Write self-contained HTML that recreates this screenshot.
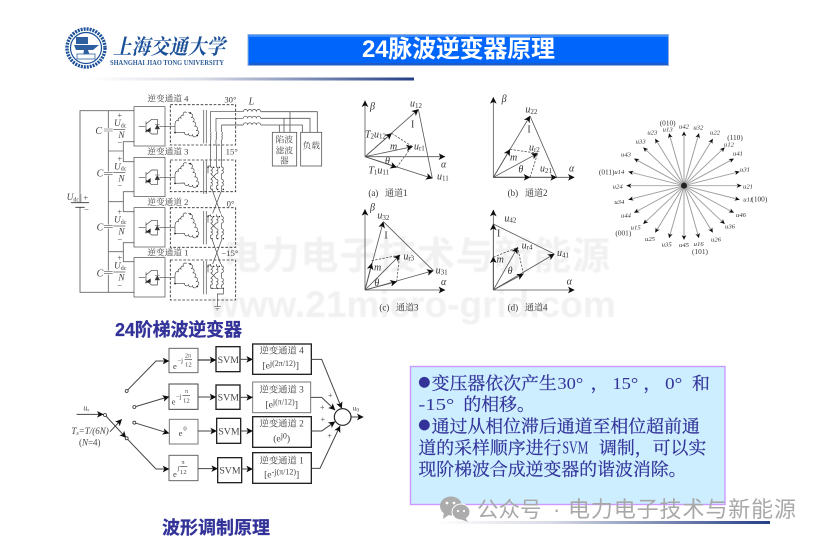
<!DOCTYPE html>
<html lang="zh"><head><meta charset="utf-8"><title>24脉波逆变器原理</title>
<style>
html,body{margin:0;padding:0;background:#fff}
svg{display:block}
text{font-family:"Liberation Serif","Noto Serif CJK SC",serif}
.sans{font-family:"Liberation Sans","Noto Sans CJK SC",sans-serif}
.it{font-style:italic}
.w{fill:none;stroke:#444;stroke-width:2}
.c text{fill:#444}
.p{fill:none;stroke:#555;stroke-width:2.4}
.ptxt text{fill:#333;stroke:none}
.s text{fill:#333}
.b rect{fill:#fff;stroke:#444}
.b text{fill:#444}
</style></head><body>
<svg xmlns="http://www.w3.org/2000/svg" width="822" height="542" viewBox="0 0 822 542">
<defs>
<linearGradient id="lg" x1="0" x2="1" y1="0" y2="0"><stop offset="0" stop-color="#fff"/><stop offset=".35" stop-color="#d9dbe6"/><stop offset="1" stop-color="#243f86"/></linearGradient>
<filter id="bl" x="-5%" y="-5%" width="110%" height="110%"><feGaussianBlur stdDeviation=".45"/></filter>
<filter id="bl2" x="-5%" y="-5%" width="110%" height="110%"><feGaussianBlur stdDeviation=".3"/></filter>
<marker id="a" markerUnits="userSpaceOnUse" markerWidth="24" markerHeight="22" refX="19" refY="10" orient="auto"><path d="M0 0L20 10L0 20L5 10Z" fill="#111"/></marker>
<marker id="as" markerUnits="userSpaceOnUse" markerWidth="18" markerHeight="16" refX="14" refY="7" orient="auto"><path d="M0 0L15 7L0 14L4 7Z" fill="#111"/></marker>

<g id="block">
 <rect x="222" y="50" width="93" height="118" fill="#fff" stroke="#444" stroke-width="2"/>
 <path class="w" d="M236 110H256M258 94V128M258 102L275 88H292V103M292 118V132H275L258 118M298 110H315M315 110H345"/>
 <path d="M255 125L272 112L272 125Z" fill="#222"/>
 <path d="M285 117H299L292 104Z M285 103H299" fill="#333" stroke="#444" stroke-width="1.5"/>
 <path class="w" d="M347 100a6 6 0 0 1 8 -8a6 6 0 0 1 8 -8a6 6 0 0 1 8 -8a6 6 0 0 1 9 -8M388 70a6 6 0 0 1 5 13a6 6 0 0 1 5 13a6 6 0 0 1 5 13a6 6 0 0 1 5 13a6 6 0 0 1 5 11M410 136a6 6 0 0 1 -12 -3a6 6 0 0 1 -12 -3a6 6 0 0 1 -12 -3M374 127L345 128V100M385 68H392"/>
 <circle cx="345" cy="128" r="2.6" fill="#222"/><circle cx="391" cy="69" r="2.6" fill="#222"/><circle cx="412" cy="136" r="2.6" fill="#222"/>
 <path d="M431 60V160M439 60V160" fill="none" stroke="#666" stroke-width="2.4"/>
</g>
<g id="sec2">
 <path class="w" d="M452 225v6a5 5 0 0 1 0 10a5 5 0 0 1 0 10M469 225v6a5 5 0 0 1 0 10a5 5 0 0 1 0 10M485 225v6a5 5 0 0 1 0 10a5 5 0 0 1 0 10M452 228H444V250M452 251L469 268M469 251L452 268M485 251V268M452 268a5 5 0 0 1 0 10a5 5 0 0 1 0 10v10M469 268a5 5 0 0 1 0 10a5 5 0 0 1 0 10v10M485 268a5 5 0 0 1 0 10a5 5 0 0 1 0 10v10"/>
 <circle cx="444" cy="232" r="2.2" fill="#222"/><circle cx="461" cy="232" r="2.2" fill="#222"/><circle cx="478" cy="232" r="2.2" fill="#222"/>
 <circle cx="456" cy="298" r="2.2" fill="#222"/><circle cx="473" cy="298" r="2.2" fill="#222"/><circle cx="490" cy="298" r="2.2" fill="#222"/>
</g>
<line id="spoke" x1="252" y1="227" x2="424" y2="227" stroke="#a0a0a0" stroke-width="3" marker-end="url(#as)"/>
</defs>

<!-- watermark -->
<g filter="url(#bl)">
<text x="223" y="269" class="sans" font-size="38" font-weight="700" fill="#f1f1f1" textLength="387" lengthAdjust="spacing">电力电子技术与新能源</text>
<text x="210" y="317" class="sans" font-size="37" font-weight="700" fill="#f1f1f1">www.21micro-grid.com</text>
</g>

<!-- logo -->
<g filter="url(#bl2)">
<circle cx="86" cy="48" r="19" fill="#fff" stroke="#1c5199" stroke-width="3.4" stroke-dasharray="2 1"/>
<circle cx="86" cy="48" r="15.5" fill="#fff" stroke="#1c5199" stroke-width="1.2"/>
<path d="M76 37H88V44H76ZM74 45H99L93 50H88L90 56H94V58H78V56H83L84 50H76Z" fill="#2d5f9f"/>
<rect x="77" y="54" width="18" height="5" fill="#fff" stroke="#2d5f9f" stroke-width=".8"/>
<text x="113" y="54" font-size="21" font-weight="700" font-style="italic" fill="#1c5199" textLength="112" lengthAdjust="spacingAndGlyphs">上海交通大学</text>
<text x="110" y="65" font-size="7.6" font-weight="700" fill="#2f5d98" textLength="114" lengthAdjust="spacingAndGlyphs">SHANGHAI JIAO TONG UNIVERSITY</text>
</g>

<!-- title -->
<rect x="248" y="34.5" width="420.5" height="31" fill="#0066fb" stroke="#8db0e0" stroke-width="1"/>
<rect x="249" y="35" width="419" height="2" fill="#3c8cff"/>
<rect x="249" y="63" width="419" height="2" fill="#1d5cc8"/>
<text x="362" y="57" class="sans" font-size="24" font-weight="700" fill="#fff" textLength="193" lengthAdjust="spacing">24脉波逆变器原理</text>
<rect x="88" y="77.5" width="326" height="3" fill="url(#lg)"/>

<!-- circuit -->
<g transform="translate(60 90) scale(.33333)" filter="url(#bl)" class="c" font-size="26">
 <path fill="none" stroke="#666" stroke-width="2.6" d="M60 338V62H222M60 352V607H222M145 62V607M145 183H190V155H222M190 183V215H222M145 335H190V305H222M190 335V365H222M145 485H190V458H222M190 485V515H222"/>
 <path d="M33 338H87M46 352H74" stroke="#333" stroke-width="2.4"/>
 <path d="M132 117H158M132 123H158M132 247H158M132 253H158M132 407H158M132 413H158M132 545H158M132 551H158" stroke="#fff" stroke-width="6" fill="none"/>
 <path d="M132 117H158M132 123H158M132 247H158M132 253H158M132 407H158M132 413H158M132 545H158M132 551H158" stroke="#555" stroke-width="1.8" fill="none"/>
 <use href="#block"/>
 <use href="#block" y="152"/>
 <use href="#block" y="303"/>
 <use href="#block" y="453"/>
 <path d="M331 44H527V165H331Z M331 210H527V305H331Z M331 353H527V472H331Z M331 510H527V630H331Z" fill="none" stroke="#333" stroke-width="2.6" stroke-dasharray="8 5"/>
 <path class="w" d="M451 125V65H550M468 125V85H550M485 125V105H550M451 125a5 5 0 0 1 0 8a5 5 0 0 1 0 8a5 5 0 0 1 0 8v15M468 125a5 5 0 0 1 0 8a5 5 0 0 1 0 8a5 5 0 0 1 0 8v15M485 125a5 5 0 0 1 0 8a5 5 0 0 1 0 8a5 5 0 0 1 0 8v15"/>
 <path class="w" d="M452 164V225M469 164V225M485 164V225"/>
 <use href="#sec2"/>
 <use href="#sec2" y="148"/>
 <use href="#sec2" y="297"/>
 <path class="w" d="M456 298L482 370M486 298L458 370M456 447L482 522M486 447L458 522M452 595H490V612H472V650"/>
 <path d="M462 650H482M466 655H478M470 660H474" stroke="#555" stroke-width="2"/>
 <path class="w" d="M550 65a6 6 0 0 1 13 0a6 6 0 0 1 13 0a6 6 0 0 1 13 0a6 6 0 0 1 13 0M550 85a6 6 0 0 1 13 0a6 6 0 0 1 13 0a6 6 0 0 1 13 0a6 6 0 0 1 13 0M550 105a6 6 0 0 1 13 0a6 6 0 0 1 13 0a6 6 0 0 1 13 0a6 6 0 0 1 13 0"/>
 <path fill="none" stroke="#555" stroke-width="2.4" d="M602 65H772V127M602 85H750V127M602 105H727V127M690 65V127M672 85V127M658 105V127"/>
 <rect x="637" y="127" width="73" height="101" fill="#fff" stroke="#555" stroke-width="2.4"/>
 <rect x="722" y="127" width="63" height="101" fill="#fff" stroke="#555" stroke-width="2.4"/>
 <text x="673" y="158" text-anchor="middle">陷波</text>
 <text x="673" y="190" text-anchor="middle">滤波</text>
 <text x="673" y="221" text-anchor="middle">器</text>
 <text x="754" y="175" text-anchor="middle">负载</text>
 <text x="262" y="35">逆变通道 4</text>
 <text x="262" y="193">逆变通道 3</text>
 <text x="262" y="345">逆变通道 2</text>
 <text x="262" y="497">逆变通道 1</text>
 <text x="493" y="38">30°</text><text x="497" y="193">15°</text><text x="500" y="350">0°</text><text x="484" y="498">−15°</text>
 <text x="566" y="43" class="it" font-size="30">L</text>
 <text x="20" y="330" class="it" font-size="28">U<tspan font-size="18" dy="4" font-style="normal">dc</tspan></text>
 <path d="M63 312V336" stroke="#777" stroke-width="1.5"/>
 <text x="70" y="332">+</text><text x="72" y="368">−</text>
 <text x="106" y="132" class="it" font-size="30">C</text><text x="110" y="260" class="it" font-size="30">C</text><text x="110" y="422" class="it" font-size="30">C</text><text x="110" y="560" class="it" font-size="30">C</text>
 <g id="ud"><text x="172" y="84">+</text><text x="162" y="108" class="it" font-size="28">U<tspan font-size="18" dy="4" font-style="normal">dc</tspan></text><path d="M160 118H196" stroke="#444" stroke-width="2"/><text x="175" y="144" class="it" font-size="28">N</text><text x="172" y="166">−</text></g>
 <use href="#ud" y="130"/><use href="#ud" y="290"/><use href="#ud" y="428"/>
</g>

<!-- phase a,b -->
<g transform="translate(345 90) scale(.33333)" filter="url(#bl)">
 <g class="p">
  <path d="M60 200V32" marker-end="url(#a)"/><path d="M60 200H300" marker-end="url(#a)"/>
  <path d="M60 200L220 58" marker-end="url(#a)"/><path d="M60 200L262 265" marker-end="url(#a)"/><path d="M220 58L262 265"/>
  <path d="M60 200L140 130" marker-end="url(#a)"/><path d="M60 200L155 232" marker-end="url(#a)"/><path d="M60 200L203 170" marker-end="url(#a)"/>
  <path d="M140 130L203 170M155 232L196 176" stroke-dasharray="7 4"/>
  <path d="M445 262V22" marker-end="url(#a)"/><path d="M445 262H688" marker-end="url(#a)"/>
  <path d="M445 262L555 78" marker-end="url(#a)"/><path d="M445 262L635 262" marker-end="url(#a)"/><path d="M555 78L635 262"/>
  <path d="M445 262L495 178" marker-end="url(#a)"/><path d="M445 262L578 190" marker-end="url(#a)"/><path d="M445 262L555 262" marker-end="url(#a)"/>
  <path d="M495 178L578 190M555 262L578 190" stroke-dasharray="7 4"/>
 </g>
 <g class="ptxt" font-size="30">
  <text x="75" y="58" class="it">β</text><text x="288" y="232" class="it">α</text>
  <text x="195" y="50" class="it">u<tspan font-size="21" dy="4" font-style="normal">12</tspan></text>
  <text x="198" y="112">I</text>
  <text x="60" y="142" class="it">T<tspan font-size="21" dy="4" font-style="normal">2</tspan><tspan dy="-4">u</tspan><tspan font-size="21" dy="4" font-style="normal">12</tspan></text>
  <text x="135" y="178" class="it">m</text>
  <text x="207" y="178" class="it">u<tspan font-size="21" dy="4" font-style="normal">r1</tspan></text>
  <text x="120" y="222" class="it">θ</text>
  <text x="70" y="250" class="it">T<tspan font-size="21" dy="4" font-style="normal">1</tspan><tspan dy="-4">u</tspan><tspan font-size="21" dy="4" font-style="normal">11</tspan></text>
  <text x="276" y="268" class="it">u<tspan font-size="21" dy="4" font-style="normal">11</tspan></text>
  <text y="318" font-size="27"><tspan x="70">(a)</tspan><tspan x="120">通道1</tspan></text>
  <text x="470" y="36" class="it">β</text><text x="672" y="245" class="it">α</text>
  <text x="541" y="68" class="it">u<tspan font-size="21" dy="4" font-style="normal">22</tspan></text>
  <text x="547" y="128">I</text><text x="495" y="212" class="it">m</text>
  <text x="552" y="182" class="it">u<tspan font-size="21" dy="4" font-style="normal">r2</tspan></text>
  <text x="520" y="248" class="it">θ</text>
  <text x="585" y="245" class="it">u<tspan font-size="21" dy="4" font-style="normal">21</tspan></text>
  <text y="318" font-size="27"><tspan x="488">(b)</tspan><tspan x="540">通道2</tspan></text>
 </g>
</g>

<!-- phase c,d -->
<g transform="translate(345 200) scale(.33333)" filter="url(#bl)">
 <g class="p">
  <path d="M60 270V28" marker-end="url(#a)"/><path d="M60 270H300" marker-end="url(#a)"/>
  <path d="M60 270L115 65" marker-end="url(#a)"/><path d="M60 270L265 212" marker-end="url(#a)"/><path d="M115 65L265 212"/>
  <path d="M60 270L80 190" marker-end="url(#a)"/><path d="M60 270L165 165" marker-end="url(#a)"/><path d="M60 270L155 245" marker-end="url(#a)"/>
  <path d="M80 182L165 165M155 245L163 172" stroke-dasharray="7 4"/>
  <path d="M445 270V30" marker-end="url(#a)"/><path d="M445 270H688" marker-end="url(#a)"/>
  <path d="M445 270V72" marker-end="url(#a)"/><path d="M445 270L628 162" marker-end="url(#a)"/><path d="M445 72L628 162"/>
  <path d="M445 270V170" marker-end="url(#a)"/><path d="M445 270L518 142" marker-end="url(#a)"/><path d="M445 270L535 222" marker-end="url(#a)"/>
  <path d="M445 172L518 142M535 222L518 142" stroke-dasharray="7 4"/>
 </g>
 <g class="ptxt" font-size="30">
  <text x="75" y="32" class="it">β</text><text x="288" y="255" class="it">α</text>
  <text x="97" y="56" class="it">u<tspan font-size="21" dy="4" font-style="normal">32</tspan></text>
  <text x="118" y="116">I</text><text x="87" y="212" class="it">m</text>
  <text x="175" y="178" class="it">u<tspan font-size="21" dy="4" font-style="normal">r3</tspan></text>
  <text x="88" y="258" class="it">θ</text>
  <text x="272" y="220" class="it">u<tspan font-size="21" dy="4" font-style="normal">31</tspan></text>
  <text y="332" font-size="27"><tspan x="103">(c)</tspan><tspan x="153">通道3</tspan></text>
  <text x="478" y="64" class="it">u<tspan font-size="21" dy="4" font-style="normal">42</tspan></text>
  <text x="456" y="110">I</text><text x="455" y="188" class="it">m</text>
  <text x="530" y="145" class="it">u<tspan font-size="21" dy="4" font-style="normal">r4</tspan></text>
  <text x="488" y="222" class="it">θ</text>
  <text x="636" y="168" class="it">u<tspan font-size="21" dy="4" font-style="normal">41</tspan></text>
  <text x="665" y="253" class="it">α</text>
  <text y="332" font-size="27"><tspan x="488">(d)</tspan><tspan x="540">通道4</tspan></text>
 </g>
</g>

<!-- star -->
<g transform="translate(600 110) scale(.33333)" filter="url(#bl2)" class="s">
 <g transform="translate(252 227) scale(1 .94) translate(-252 -227)">
 <use href="#spoke" transform="rotate(0 252 227)"/><use href="#spoke" transform="rotate(15 252 227)"/><use href="#spoke" transform="rotate(30 252 227)"/><use href="#spoke" transform="rotate(45 252 227)"/>
 <use href="#spoke" transform="rotate(60 252 227)"/><use href="#spoke" transform="rotate(75 252 227)"/><use href="#spoke" transform="rotate(90 252 227)"/><use href="#spoke" transform="rotate(105 252 227)"/>
 <use href="#spoke" transform="rotate(120 252 227)"/><use href="#spoke" transform="rotate(135 252 227)"/><use href="#spoke" transform="rotate(150 252 227)"/><use href="#spoke" transform="rotate(165 252 227)"/>
 <use href="#spoke" transform="rotate(180 252 227)"/><use href="#spoke" transform="rotate(195 252 227)"/><use href="#spoke" transform="rotate(210 252 227)"/><use href="#spoke" transform="rotate(225 252 227)"/>
 <use href="#spoke" transform="rotate(240 252 227)"/><use href="#spoke" transform="rotate(255 252 227)"/><use href="#spoke" transform="rotate(270 252 227)"/><use href="#spoke" transform="rotate(285 252 227)"/>
 <use href="#spoke" transform="rotate(300 252 227)"/><use href="#spoke" transform="rotate(315 252 227)"/><use href="#spoke" transform="rotate(330 252 227)"/><use href="#spoke" transform="rotate(345 252 227)"/>
 </g>
 <circle cx="252" cy="227" r="9" fill="#222" filter="url(#bl)"/>
 <g text-anchor="middle" font-size="20" font-style="italic">
 <text x="252" y="56">u42</text><text x="295" y="59">u32</text><text x="345" y="73">u22</text><text x="387" y="109">u12</text>
 <text x="414" y="136">u41</text><text x="435" y="184">u31</text><text x="444" y="236">u21</text><text x="444" y="274">u11</text><text x="423" y="321">u46</text>
 <text x="390" y="356">u36</text><text x="348" y="394">u26</text><text x="296" y="408">u16</text><text x="252" y="411">u45</text>
 <text x="200" y="409">u35</text><text x="150" y="393">u25</text><text x="107" y="358">u15</text><text x="78" y="323">u44</text>
 <text x="58" y="282">u34</text><text x="53" y="236">u24</text><text x="58" y="192">u14</text><text x="78" y="140">u43</text>
 <text x="122" y="101">u33</text><text x="157" y="73">u23</text><text x="203" y="64">u13</text>
 </g>
 <g text-anchor="middle" font-size="22">
 <text x="405" y="90">(110)</text><text x="478" y="275">(100)</text><text x="300" y="432">(101)</text><text x="70" y="377">(001)</text><text x="20" y="193">(011)</text><text x="203" y="47">(010)</text>
 </g>
</g>

<!-- modulation -->
<g transform="translate(60 320) scale(.33333)" filter="url(#bl)" class="b" font-size="28">
 <g stroke-width="3">
 <rect x="327" y="85" width="87" height="73" stroke-width="3" style="stroke:#666"/><rect x="327" y="192" width="87" height="76" stroke-width="3"/><rect x="328" y="298" width="86" height="74" stroke-width="3" style="stroke:#777"/><rect x="327" y="406" width="87" height="76" stroke-width="3" style="stroke:#666"/>
 <rect x="468" y="80" width="72" height="75" stroke-width="4" style="stroke:#222"/><rect x="468" y="195" width="72" height="73" stroke-width="4" style="stroke:#222"/><rect x="470" y="295" width="72" height="75" stroke-width="4" style="stroke:#222"/><rect x="473" y="413" width="72" height="75" stroke-width="4" style="stroke:#222"/>
 <rect x="578" y="72" width="176" height="91" stroke-width="4" style="stroke:#222"/><rect x="578" y="186" width="174" height="92" stroke-width="3" style="stroke:#777"/><rect x="578" y="290" width="176" height="92" stroke-width="4" style="stroke:#222"/><rect x="578" y="398" width="176" height="92" stroke-width="4" style="stroke:#222"/>
 </g>
 <g fill="none" stroke="#444" stroke-width="3">
  <path d="M414 120H468" marker-end="url(#a)" stroke="#111"/><path d="M414 231H468" marker-end="url(#a)"/><path d="M414 333H470" marker-end="url(#a)"/><path d="M414 446H473" marker-end="url(#a)"/>
  <path d="M540 118H578" marker-end="url(#a)"/><path d="M540 232H578" marker-end="url(#a)"/><path d="M542 333H578" marker-end="url(#a)"/><path d="M545 447H578" marker-end="url(#a)"/>
  <path d="M200 213L288 123H327" marker-end="url(#a)"/><path d="M223 261L327 230" marker-end="url(#a)"/><path d="M223 308L327 340" marker-end="url(#a)"/><path d="M200 355L288 447H327" marker-end="url(#a)"/>
  <path d="M50 283H130" marker-end="url(#a)"/><path d="M135 285L198 353" marker-end="url(#a)"/><path d="M150 335L185 298" marker-end="url(#a)"/>
  <path d="M754 118H785L845 265" marker-end="url(#a)"/><path d="M752 232H785L825 270" marker-end="url(#a)"/><path d="M754 333H785L825 305" marker-end="url(#a)"/><path d="M754 445H780L840 318" marker-end="url(#a)"/>
  <path d="M873 291H910" marker-end="url(#a)"/>
 </g>
 <circle cx="848" cy="291" r="25" fill="#fff" stroke="#222" stroke-width="3.5"/>
 <g fill="#fff" stroke="#333" stroke-width="2.5"><circle cx="135" cy="285" r="4.5"/><circle cx="200" cy="213" r="4.5"/><circle cx="223" cy="261" r="4.5"/><circle cx="223" cy="308" r="4.5"/><circle cx="200" cy="355" r="4.5"/></g>
 <text x="70" y="272" class="it" font-size="24">u<tspan font-size="17" dy="3" font-style="normal">r</tspan></text>
 <text x="34" y="342" class="it" font-size="27">T<tspan font-size="18" dy="3">s</tspan><tspan dy="-3">=T/(6N)</tspan></text>
 <text x="57" y="377" font-size="27">(<tspan class="it">N</tspan>=4)</text>
 <text x="878" y="272" class="it" font-size="22">u<tspan font-size="16" dy="3" font-style="normal">0</tspan></text>
 <text x="804" y="234" font-size="24">+</text><text x="780" y="270" font-size="24">+</text><text x="782" y="306" font-size="24">+</text><text x="802" y="356" font-size="24">+</text>
 <text x="339" y="147" font-size="26">e</text><text x="352" y="128" font-size="20">−j</text><text x="375" y="112" font-size="18">2π</text><path d="M374 118H396" stroke="#444" stroke-width="2"/><text x="375" y="140" font-size="20">12</text>
 <text x="335" y="254" font-size="26">e</text><text x="348" y="236" font-size="20">−j</text><text x="375" y="219" font-size="18">π</text><path d="M368 227H390" stroke="#444" stroke-width="2"/><text x="369" y="248" font-size="20">12</text>
 <text x="356" y="348" font-size="26">e</text><text x="370" y="332" font-size="20">0</text>
 <text x="339" y="471" font-size="26">e</text><text x="352" y="450" font-size="20">j</text><text x="365" y="432" font-size="18">π</text><path d="M358 440H382" stroke="#444" stroke-width="2"/><text x="360" y="462" font-size="20">12</text>
 <g font-size="29" text-anchor="middle">
 <text x="505" y="129" textLength="64" lengthAdjust="spacingAndGlyphs">SVM</text><text x="505" y="242" textLength="64" lengthAdjust="spacingAndGlyphs">SVM</text><text x="507" y="343" textLength="64" lengthAdjust="spacingAndGlyphs">SVM</text><text x="510" y="461" textLength="64" lengthAdjust="spacingAndGlyphs">SVM</text>
 <text x="665" y="101" font-size="28">逆变通道 4</text><text x="665" y="218" font-size="28">逆变通道 3</text><text x="665" y="320" font-size="28">逆变通道 2</text><text x="665" y="430" font-size="28">逆变通道 1</text>
 <text x="662" y="146">[e<tspan font-size="24" dy="-8">j(2π/12)</tspan><tspan dy="8">]</tspan></text>
 <text x="665" y="262">[e<tspan font-size="24" dy="-8">j(π/12)</tspan><tspan dy="8">]</tspan></text>
 <text x="665" y="364">(e<tspan font-size="24" dy="-8">j0</tspan><tspan dy="8">)</tspan></text>
 <text x="665" y="472">[e<tspan font-size="24" dy="-8">-j(π/12)</tspan><tspan dy="8">]</tspan></text>
 </g>
</g>

<!-- captions -->
<g filter="url(#bl2)" font-weight="700" fill="#333399" stroke="#333399" stroke-width=".25" font-size="18">
<text x="115" y="336" class="sans" textLength="127" lengthAdjust="spacing">24阶梯波逆变器</text>
<text x="162" y="534" class="sans" textLength="108" lengthAdjust="spacing">波形调制原理</text>
</g>

<!-- text box -->
<rect x="410.5" y="366.5" width="314.5" height="138" fill="#cceeff" stroke="#cc99ff" stroke-width="1.4"/>
<g transform="translate(400 355) scale(.33333)" fill="#333399" stroke="#333399" stroke-width=".7" font-size="53.7" filter="url(#bl2)">
 <circle cx="73" cy="82" r="16"/><circle cx="73" cy="210" r="16"/>
 <text x="95" y="103">变压器依次产生</text>
 <text x="472" y="102" font-size="50" stroke-width="0" textLength="78" lengthAdjust="spacingAndGlyphs">30°</text><text x="572" y="103">，</text>
 <text x="637" y="102" font-size="50" stroke-width="0" textLength="78" lengthAdjust="spacingAndGlyphs">15°</text><text x="730" y="103">，</text>
 <text x="795" y="102" font-size="50" stroke-width="0" textLength="52" lengthAdjust="spacingAndGlyphs">0°</text><text x="876" y="103">和</text>
 <text x="55" y="165" font-size="50" stroke-width="0" textLength="108" lengthAdjust="spacingAndGlyphs">-15°</text><text x="190" y="167">的相移。</text>
 <text x="95" y="232">通过从相位滞后通道至相位超前通</text>
 <text x="55" y="297">道的采样顺序进行</text>
 <text x="487" y="296" font-size="54" stroke-width="0" textLength="78" lengthAdjust="spacingAndGlyphs">SVM</text>
 <text x="597" y="297">调制，可以实</text>
 <text x="55" y="362">现阶梯波合成逆变器的谐波消除。</text>
</g>

<!-- wechat watermark -->
<g filter="url(#bl2)">
<rect x="433" y="521" width="337" height="3" fill="url(#lg)"/>
<ellipse cx="451" cy="506" rx="11" ry="9.5" fill="#acacac"/><path d="M444 512L443 519L450 514Z" fill="#acacac"/>
<ellipse cx="461" cy="512" rx="9" ry="8" fill="#acacac" stroke="#fff" stroke-width="1"/><path d="M465 517L468 522L460 519Z" fill="#acacac"/>
<circle cx="447" cy="503" r="1.4" fill="#fff"/><circle cx="454" cy="503" r="1.4" fill="#fff"/><circle cx="458" cy="511" r="1.1" fill="#fff"/><circle cx="464" cy="511" r="1.1" fill="#fff"/>
<g class="sans" font-size="22" fill="#a8a8a8">
<text x="477" y="517" class="sans" font-size="21.5">公众号</text>
<text x="553" y="517" class="sans">·</text>
<text x="568" y="517" class="sans" textLength="228" lengthAdjust="spacing">电力电子技术与新能源</text>
</g>
</g>
</svg>
</body></html>
